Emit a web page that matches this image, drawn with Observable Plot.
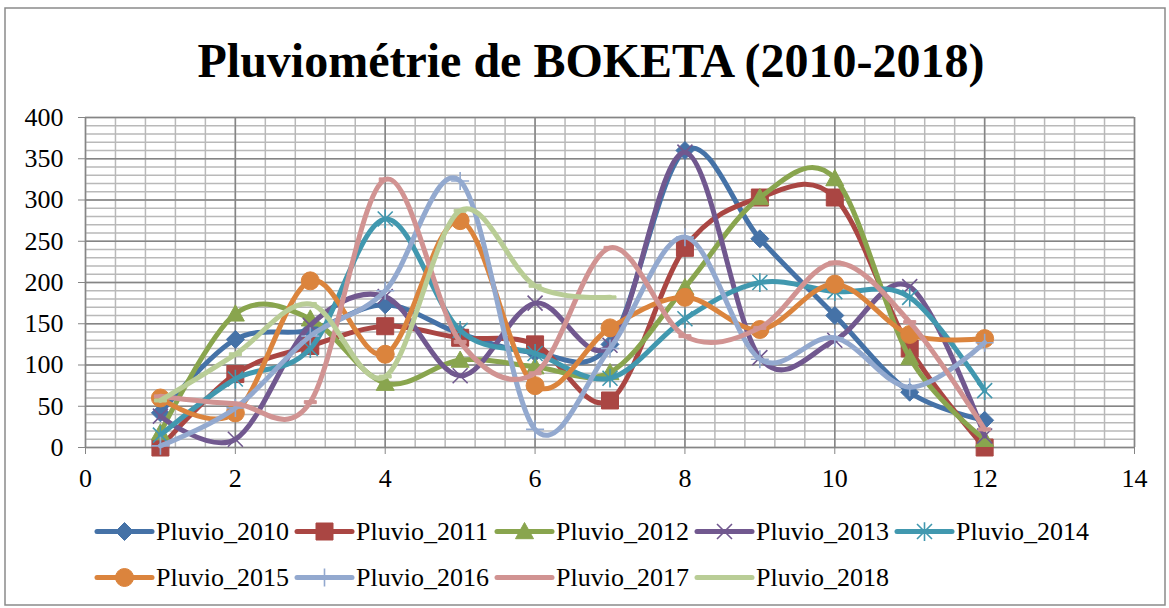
<!DOCTYPE html>
<html><head><meta charset="utf-8">
<script src="https://cdn.jsdelivr.net/npm/d3@7"></script>
<script src="https://cdn.jsdelivr.net/npm/@observablehq/plot@0.6"></script>
<style>
body{margin:0;background:#fff;}
#wrap{position:relative;width:1169px;height:608px;overflow:hidden;font-family:"Liberation Serif","Times New Roman",serif;background:#fff;}
#plot{position:absolute;left:0;top:100px;}
#overlay{position:absolute;left:0;top:0;}
</style></head><body><div id="wrap"><div id="plot"></div></div>
<script>
const chartTitle = "Pluviométrie de BOKETA (2010-2018)";
const months = [1,2,3,4,5,6,7,8,9,10,11,12];
const seriesNames = ["Pluvio_2010","Pluvio_2011","Pluvio_2012","Pluvio_2013","Pluvio_2014","Pluvio_2015","Pluvio_2016","Pluvio_2017","Pluvio_2018"];
const pluvio2010 = [42,131,142,173,138,115,125,360,253,160,67,33];
const pluvio2011 = [0,89,123,147,133,125,57,242,303,303,120,0];
const pluvio2012 = [18,162,156,78,106,98,91,194,303,326,109,10];
const pluvio2013 = [38,10,148,183,87,175,124,358,109,130,195,14];
const pluvio2014 = [15,83,120,277,142,114,84,156,200,189,182,69];
const pluvio2015 = [60,42,202,113,275,75,145,182,143,198,137,132];
const pluvio2016 = [2,48,135,190,323,22,120,255,107,133,73,127];
const pluvio2017 = [62,53,55,325,128,90,242,135,145,224,152,22];
const pluvio2018 = [57,113,174,86,287,196,182];
const yTicks = [0,50,100,150,200,250,300,350,400];
const xTicks = [0,2,4,6,8,10,12,14];

const allValues = [pluvio2010,pluvio2011,pluvio2012,pluvio2013,pluvio2014,pluvio2015,pluvio2016,pluvio2017,pluvio2018];
const colors = ["#4572A7","#AA4643","#89A54E","#71588F","#4198AF","#DB843D","#93A9CF","#D19392","#B9CD96"];

// marker shapes (Excel style)
const R = s => Math.sqrt(s / Math.PI);
const symbols = {
  diamond: {draw(c, s){const r=R(s); c.moveTo(0,-r); c.lineTo(r,0); c.lineTo(0,r); c.lineTo(-r,0); c.closePath();}},
  square: {draw(c, s){const r=R(s); c.rect(-r,-r,2*r,2*r);}},
  triangle: {draw(c, s){const r=R(s); c.moveTo(0,-r); c.lineTo(r,r*0.8); c.lineTo(-r,r*0.8); c.closePath();}},
  x: {draw(c, s){const r=R(s); c.moveTo(-r,-r); c.lineTo(r,r); c.moveTo(-r,r); c.lineTo(r,-r);}},
  star: {draw(c, s){const r=R(s); c.moveTo(-r,-r); c.lineTo(r,r); c.moveTo(-r,r); c.lineTo(r,-r); c.moveTo(0,-r*1.25); c.lineTo(0,r*1.25);}},
  circle: {draw(c, s){const r=R(s); c.moveTo(r,0); c.arc(0,0,r,0,2*Math.PI);}},
  plus: {draw(c, s){const r=R(s); c.moveTo(-r,0); c.lineTo(r,0); c.moveTo(0,-r); c.lineTo(0,r);}},
  dash: {draw(c, s){const r=R(s); c.rect(-r,-r*0.25,2*r,r*0.5);}}
};
const markerStyle = [
  {sym:"diamond", r:9, filled:true},
  {sym:"square", r:8.5, filled:true},
  {sym:"triangle", r:9, filled:true},
  {sym:"x", r:7.5, filled:false},
  {sym:"star", r:7.5, filled:false},
  {sym:"circle", r:9, filled:true},
  {sym:"plus", r:9, filled:false},
  {sym:"dash", r:6, filled:true},
  {sym:"dash", r:6, filled:true}
];

const rows = [];
seriesNames.forEach((name, k) => {
  allValues[k].forEach((v, i) => rows.push({series: name, month: months[i], value: v}));
});

const minorX = d3.range(0, 36).map(i => +(i * 0.4).toFixed(2));
const gridMinor = "#b9b9b9", gridMajor = "#858585";

const marks = [
  Plot.gridX(minorX, {stroke: gridMinor, strokeOpacity: 1, strokeWidth: 1.5}),
  Plot.gridY({interval: 10, stroke: gridMinor, strokeOpacity: 1, strokeWidth: 1.5}),
  Plot.gridX(xTicks, {stroke: gridMajor, strokeOpacity: 1, strokeWidth: 1.5}),
  Plot.gridY(yTicks, {stroke: gridMajor, strokeOpacity: 1, strokeWidth: 1.5}),
  Plot.axisY(yTicks, {tickSize: 7, tickPadding: 15, stroke: gridMajor, fill: "#000", fontSize: 26, label: null}),
  Plot.axisX(xTicks, {tickSize: 7, tickPadding: 14, stroke: gridMajor, fill: "#000", fontSize: 26, label: null})
];
seriesNames.forEach((name, k) => {
  const data = rows.filter(d => d.series === name);
  const m = markerStyle[k];
  marks.push(Plot.line(data, {x: "month", y: "value", stroke: colors[k], strokeWidth: 5, curve: "cardinal", strokeLinecap: "round", strokeLinejoin: "round"}));
  marks.push(Plot.dot(data, {x: "month", y: "value", r: m.r, symbol: symbols[m.sym],
    fill: m.filled ? colors[k] : "none", stroke: colors[k], strokeWidth: m.filled ? 1 : 1.6}));
});

const chart = Plot.plot({
  width: 1169, height: 400,
  marginTop: 17, marginBottom: 53, marginLeft: 85, marginRight: 35,
  x: {domain: [0, 14], label: null},
  y: {domain: [0, 400], label: null},
  style: {fontFamily: '"Liberation Serif","Times New Roman",serif', fontSize: "26px", color: "#000", background: "transparent", overflow: "visible"},
  marks
});
document.getElementById("plot").appendChild(chart);

// overlay: frame, title, legend
const svg = d3.select("#wrap").append("svg").attr("id","overlay").attr("width",1169).attr("height",608);
svg.append("rect").attr("x",5).attr("y",8).attr("width",1160).attr("height",597)
  .attr("fill","none").attr("stroke","#8a8a8a").attr("stroke-width",1.5);
svg.append("text").attr("x",591).attr("y",77).attr("text-anchor","middle")
  .attr("font-family",'"Liberation Serif","Times New Roman",serif').attr("font-weight","bold")
  .attr("font-size",48).text(chartTitle);

seriesNames.forEach((name, k) => {
  const row = k < 5 ? 0 : 1, col = k < 5 ? k : k - 5;
  const x0 = 97 + col * 200, yLine = row ? 577.5 : 531.5;
  const g = svg.append("g");
  g.append("line").attr("x1",x0).attr("x2",x0+55).attr("y1",yLine).attr("y2",yLine)
    .attr("stroke",colors[k]).attr("stroke-width",5).attr("stroke-linecap","round");
  const m = markerStyle[k];
  const p = d3.path();
  symbols[m.sym].draw(p, Math.PI * m.r * m.r);
  g.append("path").attr("d", p.toString()).attr("transform",`translate(${x0+27.5},${yLine})`)
    .attr("fill", m.filled ? colors[k] : "none").attr("stroke",colors[k]).attr("stroke-width", m.filled ? 1 : 1.6);
  g.append("text").attr("x",x0+59).attr("y",yLine+8).attr("font-size",26)
    .attr("font-family",'"Liberation Serif","Times New Roman",serif').attr("fill","#000").text(name);
});
</script></body></html>
